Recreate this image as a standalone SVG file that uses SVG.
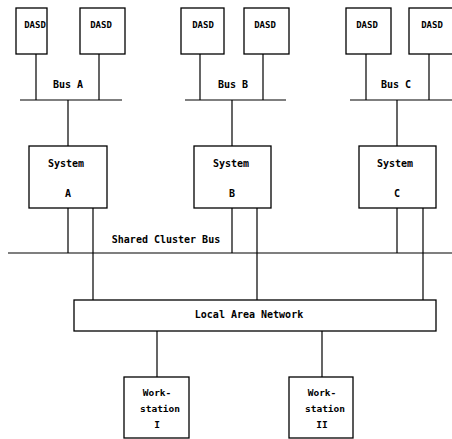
<svg xmlns="http://www.w3.org/2000/svg" width="452" height="439" viewBox="0 0 452 439">
<style>
.b{fill:#fff;stroke:#000;stroke-width:1.3}
.l{stroke:#000;stroke-width:1.2;fill:none}
text{font-family:"DejaVu Sans Mono","Liberation Mono",monospace;font-weight:bold;fill:#000;text-anchor:middle}
.t{font-size:10px}
.d{font-size:9px}
.w{font-size:9.5px}
</style>
<rect width="452" height="439" fill="#fff"/>
<g id="connectors">
<path class="l" d="M36 54V100M99 54V100M20 100H122M68 100V146"/>
<path class="l" d="M200 54V100M263 54V100M185 100H286M232 100V146"/>
<path class="l" d="M366 54V100M429 54V100M350 100H452M397 100V146"/>
<path class="l" d="M8 253H452"/>
<path class="l" d="M68 208V253M93 208V300M232 208V253M257 208V300M397 208V253M423 208V300"/>
<path class="l" d="M157 331V377M322 331V377"/>
</g>
<g id="dasd-a1"><rect class="b" x="16" y="8" width="31" height="46"/><text class="d" x="35" y="28">DASD</text></g>
<g id="dasd-a2"><rect class="b" x="80" y="8" width="45" height="46"/><text class="d" x="101" y="28">DASD</text></g>
<g id="dasd-b1"><rect class="b" x="181" y="8" width="43" height="46"/><text class="d" x="203" y="28">DASD</text></g>
<g id="dasd-b2"><rect class="b" x="244" y="8" width="45" height="46"/><text class="d" x="265" y="28">DASD</text></g>
<g id="dasd-c1"><rect class="b" x="346" y="8" width="45" height="46"/><text class="d" x="367" y="28">DASD</text></g>
<g id="dasd-c2"><rect class="b" x="409" y="8" width="50" height="46"/><text class="d" x="432" y="28">DASD</text></g>
<g id="bus-labels">
<text class="t" x="68" y="88">Bus A</text>
<text class="t" x="233" y="88">Bus B</text>
<text class="t" x="396" y="88">Bus C</text>
</g>
<g id="system-a"><rect class="b" x="29" y="146" width="78" height="62"/><text class="t" x="66" y="167">System</text><text class="t" x="68" y="197">A</text></g>
<g id="system-b"><rect class="b" x="194" y="146" width="77" height="62"/><text class="t" x="231" y="167">System</text><text class="t" x="232" y="197">B</text></g>
<g id="system-c"><rect class="b" x="359" y="146" width="77" height="62"/><text class="t" x="395" y="167">System</text><text class="t" x="397" y="197">C</text></g>
<g id="shared-bus"><text class="t" x="166" y="243">Shared Cluster Bus</text></g>
<g id="lan"><rect class="b" x="74" y="300" width="362" height="31"/><text class="t" x="249" y="318">Local Area Network</text></g>
<g id="ws1"><rect class="b" x="124" y="377" width="65" height="61"/><text class="w" x="157" y="396">Work-</text><text class="w" x="160" y="412">station</text><text class="w" x="157" y="428">I</text></g>
<g id="ws2"><rect class="b" x="289" y="377" width="64" height="61"/><text class="w" x="322" y="396">Work-</text><text class="w" x="325" y="412">station</text><text class="w" x="322" y="428">II</text></g>
</svg>
